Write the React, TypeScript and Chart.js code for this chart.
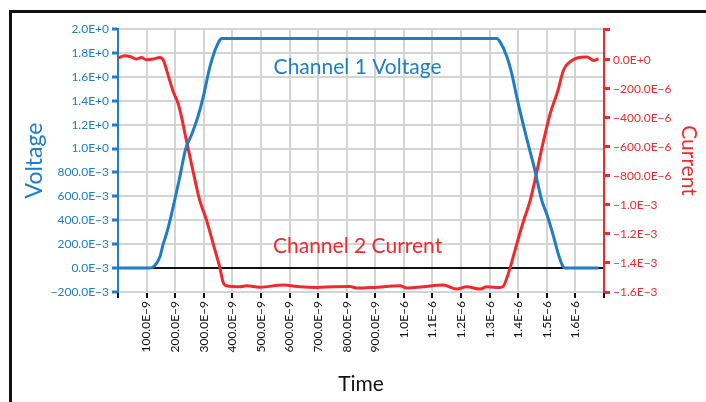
import React, { useEffect, useRef } from "react";
import { Chart, registerables } from "chart.js";

Chart.register(...registerables);

// ---- data ----
const voltTimesNs = [0, 60, 110, 128, 146, 158, 170, 187, 215, 237, 258, 280, 298, 321, 339, 352, 362, 600, 900, 1200, 1325, 1337, 1360, 1378, 1395, 1430, 1455, 1483, 1500, 1524, 1540, 1555, 1565, 1620, 1681];
const voltValues = [0, 0, 0, 0.02, 0.09, 0.2, 0.29, 0.45, 0.75, 1.0, 1.12, 1.27, 1.43, 1.68, 1.82, 1.89, 1.92, 1.92, 1.92, 1.92, 1.92, 1.89, 1.77, 1.62, 1.43, 1.08, 0.85, 0.56, 0.45, 0.26, 0.12, 0.02, 0, 0, 0];

const currTimesNs = [0, 23, 47, 64, 82, 99, 123, 146, 158, 175, 193, 210, 222, 234, 258, 286, 310, 333, 356, 368, 380, 426, 450, 496, 578, 636, 695, 753, 812, 835, 893, 987, 1010, 1068, 1138, 1185, 1220, 1267, 1290, 1337, 1349, 1372, 1395, 1419, 1442, 1489, 1512, 1536, 1559, 1582, 1606, 1641, 1664, 1681];
const currValuesMicroA = [12, 28, 19, 5, 16, 0, 5, 16, 0, -104, -219, -300, -392, -507, -727, -969, -1107, -1268, -1430, -1534, -1557, -1564, -1557, -1567, -1552, -1564, -1569, -1564, -1562, -1573, -1569, -1557, -1573, -1564, -1552, -1580, -1564, -1580, -1564, -1569, -1557, -1430, -1268, -1107, -969, -554, -369, -230, -69, -12, 12, 19, -5, 7];

const xTickValuesNs = [0, 100, 200, 300, 400, 500, 600, 700, 800, 900, 1000, 1100, 1200, 1300, 1400, 1500, 1600, 1700];
const xTickLabels = ["", "100.0E\u22129", "200.0E\u22129", "300.0E\u22129", "400.0E\u22129", "500.0E\u22129", "600.0E\u22129", "700.0E\u22129", "800.0E\u22129", "900.0E\u22129", "1.0E\u22126", "1.1E\u22126", "1.2E\u22126", "1.3E\u22126", "1.4E\u22126", "1.5E\u22126", "1.6E\u22126", ""];

const voltTickValues = [-0.2, 0, 0.2, 0.4, 0.6, 0.8, 1.0, 1.2, 1.4, 1.6, 1.8, 2.0];
const voltTickLabels = ["\u2212200.0E\u22123", "0.0E\u22123", "200.0E\u22123", "400.0E\u22123", "600.0E\u22123", "800.0E\u22123", "1.0E+0", "1.2E+0", "1.4E+0", "1.6E+0", "1.8E+0", "2.0E+0"];

const currTickValues = [-1600, -1400, -1200, -1000, -800, -600, -400, -200, 0, 212];
const currTickLabels = ["\u22121.6E\u22123", "\u22121.4E\u22123", "\u22121.2E\u22123", "\u22121.0E\u22123", "\u2212800.0E\u22126", "\u2212600.0E\u22126", "\u2212400.0E\u22126", "\u2212200.0E\u22126", "0.0E+0", ""];

const annotationTexts = ["Channel 1 Voltage", "Channel 2 Current"];
const annotationTimesNs = [838, 838];
const annotationVolts = [1.68, 0.18];

const BLUE = "#1f7dc6";
const RED = "#ef2a2e";
const GRID = "#d4d4d4";
const FONT = "Lato";

const labelsPlugin = {
  id: "channelLabels",
  afterDatasetsDraw(chart: any) {
    const { ctx, scales } = chart;
    ctx.save();
    ctx.font = `21px ${FONT}`;
    ctx.textAlign = "center";
    ctx.textBaseline = "middle";
    const colors = [BLUE, RED];
    annotationTexts.forEach((t, i) => {
      ctx.fillStyle = colors[i];
      ctx.fillText(t, scales.x.getPixelForValue(annotationTimesNs[i]), scales.y.getPixelForValue(annotationVolts[i]));
    });
    ctx.restore();
  },
};

export default function App() {
  const ref = useRef<HTMLCanvasElement>(null);
  useEffect(() => {
    if (!ref.current) return;
    Chart.defaults.font.family = FONT;
    const chart = new Chart(ref.current, {
      type: "line",
      data: {
        datasets: [
          {
            label: "Voltage",
            data: voltTimesNs.map((t, i) => ({ x: t, y: voltValues[i] })),
            borderColor: BLUE,
            borderWidth: 3,
            pointRadius: 0,
            cubicInterpolationMode: "monotone",
            yAxisID: "y",
          },
          {
            label: "Current",
            data: currTimesNs.map((t, i) => ({ x: t, y: currValuesMicroA[i] })),
            borderColor: RED,
            borderWidth: 3,
            pointRadius: 0,
            cubicInterpolationMode: "monotone",
            yAxisID: "y1",
          },
        ],
      },
      options: {
        animation: false,
        responsive: false,
        layout: { padding: { top: 29, left: 0, right: 0, bottom: 0 } },
        plugins: { legend: { display: false }, tooltip: { enabled: false } },
        scales: {
          x: {
            type: "linear",
            min: 0,
            max: 1700,
            afterBuildTicks: (s: any) => {
              s.ticks = xTickValuesNs.map((v) => ({ value: v }));
            },
            afterFit: (s: any) => {
              s.height = 110;
            },
            ticks: {
              autoSkip: false,
              maxRotation: 90,
              minRotation: 90,
              color: "#111",
              font: { size: 12 },
              padding: 3,
              callback: (_v: any, i: number) => xTickLabels[i],
            },
            grid: { color: GRID, lineWidth: 2, tickColor: "#111", tickLength: 6, tickWidth: 2 },
            border: { display: true, color: GRID, width: 2 },
            title: { display: true, text: "Time", color: "#111", font: { size: 21 }, padding: { top: 5, bottom: 5 } },
          },
          y: {
            type: "linear",
            position: "left",
            min: -0.2,
            max: 2.0,
            afterBuildTicks: (s: any) => {
              s.ticks = voltTickValues.map((v) => ({ value: v }));
            },
            afterFit: (s: any) => {
              s.width = 118;
            },
            ticks: {
              color: BLUE,
              font: { size: 12 },
              padding: 3,
              callback: (_v: any, i: number) => voltTickLabels[i],
            },
            grid: {
              color: (c: any) => (c.tick && Math.abs(c.tick.value) < 1e-9 ? "#111" : GRID),
              lineWidth: 2,
              tickColor: BLUE,
              tickLength: 6,
              tickWidth: 3,
            },
            border: { display: true, color: BLUE, width: 2 },
            title: { display: true, text: "Voltage", color: BLUE, font: { size: 23 }, padding: { top: 21, bottom: 0 } },
          },
          y1: {
            type: "linear",
            position: "right",
            min: -1600,
            max: 212,
            afterBuildTicks: (s: any) => {
              s.ticks = currTickValues.map((v) => ({ value: v }));
            },
            afterFit: (s: any) => {
              s.width = 102;
            },
            ticks: {
              color: RED,
              font: { size: 12 },
              padding: 3,
              callback: (_v: any, i: number) => currTickLabels[i],
            },
            grid: { drawOnChartArea: false, color: RED, tickColor: RED, tickLength: 6, tickWidth: 3 },
            border: { display: true, color: RED, width: 2 },
            title: { display: true, text: "Current", color: RED, font: { size: 21 }, padding: { top: 5, bottom: 0 } },
          },
        },
      },
      plugins: [labelsPlugin],
    } as any);
    return () => chart.destroy();
  }, []);

  return (
    <div style={{ position: "fixed", left: 0, top: 0, width: 706, height: 402, background: "#fff", overflow: "hidden" }}>
      <div
        style={{
          position: "absolute",
          left: 9,
          top: 10,
          width: 800,
          height: 500,
          borderTop: "3px solid #111",
          borderLeft: "3px solid #111",
        }}
      />
      <canvas ref={ref} width={706} height={402} style={{ position: "absolute", left: 0, top: 0 }} />
    </div>
  );
}
